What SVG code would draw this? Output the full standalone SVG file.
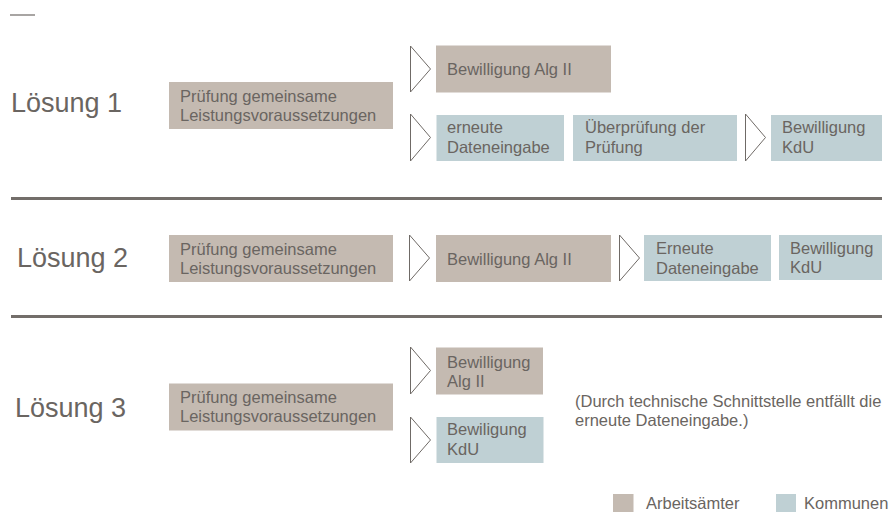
<svg xmlns="http://www.w3.org/2000/svg" width="891" height="512" viewBox="0 0 891 512">
  <style>
    text { font-family: "Liberation Sans", Arial, sans-serif; fill: #6a6561; }
    .lbl { font-size: 16.5px; }
    .title { font-size: 27px; }
    .tan { fill: #c4bab1; }
    .blue { fill: #bfd0d4; }
    .chev { fill: #ffffff; stroke: #6f6a66; stroke-width: 1; }
    .sep { stroke: #736e6a; stroke-width: 3; }
  </style>
  <rect width="891" height="512" fill="#ffffff"/>
  <line x1="10" y1="15" x2="35" y2="15" stroke="#6f6a66" stroke-width="1.2"/>

  <!-- separators -->
  <line class="sep" x1="11" y1="198.5" x2="882" y2="198.5"/>
  <line class="sep" x1="11" y1="316.5" x2="882" y2="316.5"/>

  <!-- titles -->
  <text class="title" x="11" y="112">Lösung 1</text>
  <text class="title" x="17" y="267">Lösung 2</text>
  <text class="title" x="15" y="417">Lösung 3</text>

  <!-- Row 1 -->
  <g id="r1-pruefung">
    <rect class="tan" x="169" y="82" width="224" height="47"/>
    <text class="lbl" x="180" y="102">Prüfung gemeinsame</text>
    <text class="lbl" x="180" y="121">Leistungsvoraussetzungen</text>
  </g>
  <g id="r1-alg">
    <rect class="tan" x="436" y="45.5" width="175" height="47"/>
    <text class="lbl" x="447" y="75">Bewilligung Alg II</text>
  </g>
  <g id="r1-erneute">
    <rect class="blue" x="436.5" y="115" width="127.5" height="46"/>
    <text class="lbl" x="447" y="133">erneute</text>
    <text class="lbl" x="447" y="153">Dateneingabe</text>
  </g>
  <g id="r1-ueberpruefung">
    <rect class="blue" x="573" y="115" width="164" height="46"/>
    <text class="lbl" x="585" y="133">Überprüfung der</text>
    <text class="lbl" x="585" y="153">Prüfung</text>
  </g>
  <g id="r1-kdu">
    <rect class="blue" x="771" y="115" width="111" height="46"/>
    <text class="lbl" x="782" y="133">Bewilligung</text>
    <text class="lbl" x="782" y="153">KdU</text>
  </g>

  <!-- Row 2 -->
  <g id="r2-pruefung">
    <rect class="tan" x="169" y="235" width="224" height="47"/>
    <text class="lbl" x="180" y="255">Prüfung gemeinsame</text>
    <text class="lbl" x="180" y="274">Leistungsvoraussetzungen</text>
  </g>
  <g id="r2-alg">
    <rect class="tan" x="436" y="235" width="175" height="47"/>
    <text class="lbl" x="447" y="265">Bewilligung Alg II</text>
  </g>
  <g id="r2-erneute">
    <rect class="blue" x="644" y="235" width="127" height="46"/>
    <text class="lbl" x="656" y="254">Erneute</text>
    <text class="lbl" x="656" y="274">Dateneingabe</text>
  </g>
  <g id="r2-kdu">
    <rect class="blue" x="779" y="235" width="103" height="45"/>
    <text class="lbl" x="790" y="254">Bewilligung</text>
    <text class="lbl" x="790" y="273">KdU</text>
  </g>

  <!-- Row 3 -->
  <g id="r3-pruefung">
    <rect class="tan" x="169" y="383.5" width="224" height="47"/>
    <text class="lbl" x="180" y="403">Prüfung gemeinsame</text>
    <text class="lbl" x="180" y="422">Leistungsvoraussetzungen</text>
  </g>
  <g id="r3-alg">
    <rect class="tan" x="436" y="347.5" width="107" height="47"/>
    <text class="lbl" x="447" y="368">Bewilligung</text>
    <text class="lbl" x="447" y="387">Alg II</text>
  </g>
  <g id="r3-kdu">
    <rect class="blue" x="436.5" y="417" width="107" height="46"/>
    <text class="lbl" x="447" y="435">Bewiligung</text>
    <text class="lbl" x="447" y="455">KdU</text>
  </g>
  <g id="r3-note">
    <text class="lbl" x="575" y="407">(Durch technische Schnittstelle entfällt die</text>
    <text class="lbl" x="575" y="426">erneute Dateneingabe.)</text>
  </g>

  <!-- legend -->
  <g id="legend-arbeitsaemter">
    <rect class="tan" x="613" y="494" width="20.5" height="18"/>
    <text class="lbl" x="646" y="509">Arbeitsämter</text>
  </g>
  <g id="legend-kommunen">
    <rect class="blue" x="776" y="494" width="20" height="18"/>
    <text class="lbl" x="804" y="509">Kommunen</text>
  </g>

  <!-- connectors (chevrons) -->
  <g id="connectors">
    <polygon class="chev" points="410.5,46 430.5,69 410.5,92"/>
    <polygon class="chev" points="410.5,114 430.5,137.5 410.5,161"/>
    <polygon class="chev" points="745.5,114 765.5,137.5 745.5,161"/>
    <polygon class="chev" points="409.5,235 429.5,258 409.5,281"/>
    <polygon class="chev" points="619.5,235 639.5,258 619.5,281"/>
    <polygon class="chev" points="410.5,347 430.5,370.5 410.5,394"/>
    <polygon class="chev" points="410.5,417 430.5,440 410.5,463"/>
  </g>
</svg>
